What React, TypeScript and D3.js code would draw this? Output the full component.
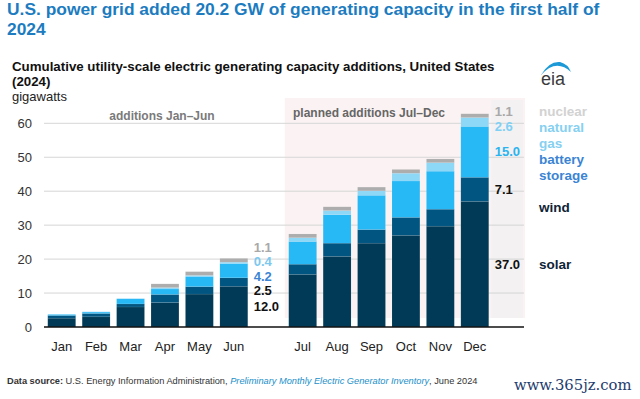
import React from "react";
import * as d3 from "d3";

// monthly cumulative additions, GW (Jan-Jun actual, Jul-Dec planned)
const months = ["Jan", "Feb", "Mar", "Apr", "May", "Jun", "Jul", "Aug", "Sep", "Oct", "Nov", "Dec"];
const solar = [2.6, 3.0, 5.9, 7.2, 9.7, 12.0, 15.5, 20.8, 24.7, 27.0, 29.7, 37.0];
const wind = [0.8, 1.0, 0.9, 2.4, 2.2, 2.5, 3.0, 3.9, 4.0, 5.3, 5.0, 7.1];
const battery = [0.3, 0.4, 1.5, 1.6, 3.0, 4.2, 6.7, 8.4, 10.1, 10.7, 11.2, 15.0];
const naturalGas = [0.0, 0.1, 0.1, 0.4, 0.3, 0.4, 1.1, 1.2, 1.3, 2.3, 2.5, 2.6];
const nuclear = [0, 0, 0, 1.1, 1.1, 1.1, 1.1, 1.1, 1.1, 1.1, 1.1, 1.1];

const seriesKeys = ["solar", "wind", "battery", "naturalGas", "nuclear"];
const seriesColors = ["#003a56", "#005581", "#27b8f6", "#8dd7f7", "#adadad"];
const legendLines = [["solar"], ["wind"], ["battery", "storage"], ["natural", "gas"], ["nuclear"]];
const legendColors = ["#0e2436", "#0e2436", "#3b84d4", "#86d0f1", "#d2d2d2"];
const junLabelColors = ["#111111", "#111111", "#3b84d4", "#7cc8ee", "#a9a9a9"];
const decLabelColors = ["#111111", "#111111", "#2ab4f0", "#7fd0f5", "#a9a9a9"];
const yTicks = [0, 10, 20, 30, 40, 50, 60];

const slots = [...months.slice(0, 6), "gap", ...months.slice(6)];

const W = 640;
const H = 399;
const font = "'Liberation Sans', Arial, sans-serif";

// spread labels vertically so they don't overlap, keeping groups centered on their anchors
function spread(ys: number[], gap: number): number[] {
  let groups = ys.map((y, i) => ({ idx: [i], mean: y }));
  let merged = true;
  while (merged) {
    merged = false;
    for (let i = 0; i < groups.length - 1; i++) {
      const a = groups[i];
      const b = groups[i + 1];
      const aBottom = a.mean + ((a.idx.length - 1) / 2) * gap;
      const bTop = b.mean - ((b.idx.length - 1) / 2) * gap;
      if (bTop - aBottom < gap) {
        const idx = [...a.idx, ...b.idx];
        const mean = d3.mean(idx, (k) => ys[k]) as number;
        groups.splice(i, 2, { idx, mean });
        merged = true;
        break;
      }
    }
  }
  const out: number[] = [];
  groups.forEach((g) => {
    g.idx.forEach((k, j) => {
      out[k] = g.mean + (j - (g.idx.length - 1) / 2) * gap;
    });
  });
  return out;
}

export default function App() {
  const table = months.map((m, i) => ({
    month: m,
    solar: solar[i],
    wind: wind[i],
    battery: battery[i],
    naturalGas: naturalGas[i],
    nuclear: nuclear[i],
  }));
  const stacked = d3.stack<any>().keys(seriesKeys)(table);

  const x = d3.scaleBand<string>().domain(slots).range([44.5, 492]).paddingInner(0.19).paddingOuter(0.095);
  const y = d3.scaleLinear().domain([0, 60]).range([327, 123.3]);
  const bw = x.bandwidth();

  const labelsFor = (mi: number) => {
    // top to bottom order
    const order = [4, 3, 2, 1, 0];
    const centers = order.map((s) => y((stacked[s][mi][0] + stacked[s][mi][1]) / 2));
    const ys = spread(centers, 14.5);
    const res: { s: number; y: number }[] = [];
    order.forEach((s, k) => res.push({ s, y: ys[k] }));
    return res;
  };
  const junLabels = labelsFor(5);
  const decLabels = labelsFor(11);
  const fmt = d3.format(".1f");

  // legend lines follow the Dec labels
  const legendItems: { text: string; color: string; y: number }[] = [];
  let prev = -Infinity;
  let prevMulti = false;
  [4, 3, 2, 1, 0].forEach((s) => {
    const anchor = decLabels.find((d) => d.s === s)!.y;
    const single = legendLines[s].length === 1;
    legendLines[s].forEach((t, j) => {
      const ly = j === 0 ? Math.max(anchor, prev + (prevMulti && single ? 32 : 16)) : prev + 16;
      legendItems.push({ text: t, color: legendColors[s], y: ly });
      prev = ly;
    });
    prevMulti = !single;
  });

  const planLeft = (x("Jul") as number) - 4;
  const plotRight = 524;
  const decRight = (x("Dec") as number) + bw;

  return (
    <svg width={W} height={H} style={{ position: "absolute", left: 0, top: 0, background: "#fff" }} fontFamily={font}>
      {/* title */}
      <text x={7} y={15} fontSize={17.4} fontWeight="bold" fill="#1d7cbf">
        U.S. power grid added 20.2 GW of generating capacity in the first half of
      </text>
      <text x={7} y={35} fontSize={17.4} fontWeight="bold" fill="#1d7cbf">
        2024
      </text>

      <text x={12} y={71} fontSize={13.3} fontWeight="bold" fill="#111">
        Cumulative utility-scale electric generating capacity additions, United States
      </text>
      <text x={12} y={86} fontSize={13.3} fontWeight="bold" fill="#111">
        (2024)
      </text>
      <text x={12} y={101} fontSize={13} fill="#222">
        gigawatts
      </text>

      {/* eia logo */}
      <path d="M541,75 Q556,58 571,72 Q568,64 560,62 Q549,61 541,75 Z" fill="#1c9ad8" />
      <text x={541} y={85} fontSize={18} fill="#3a3a3a">
        eia
      </text>

      {/* planned region */}
      <rect x={planLeft} y={98} width={plotRight + 1 - planLeft} height={220} fill="#fbf3f3" />
      <rect x={decRight + 2.5} y={100} width={plotRight - 1 - decRight - 2.5} height={218} fill="#f3f1f1" />

      {/* grid */}
      {yTicks.filter((t) => t > 0).map((t) => (
        <line key={t} x1={44} x2={plotRight} y1={y(t)} y2={y(t)} stroke="#d6d6d6" strokeWidth={1} />
      ))}
      {yTicks.map((t) => (
        <text key={t} x={32} y={y(t)} dy="0.35em" textAnchor="end" fontSize={13} fill="#333">
          {t}
        </text>
      ))}

      <text x={162} y={120} textAnchor="middle" fontSize={12} fontWeight="bold" fill="#7a7a7a">
        additions Jan–Jun
      </text>
      <text x={293} y={117} fontSize={12} fontWeight="bold" fill="#666">
        planned additions Jul–Dec
      </text>

      {/* bars */}
      {stacked.map((layer, s) => (
        <g key={seriesKeys[s]} fill={seriesColors[s]}>
          {layer.map((d: any) => (
            <rect
              key={d.data.month}
              x={x(d.data.month)}
              y={y(d[1])}
              width={bw}
              height={Math.max(0, y(d[0]) - y(d[1]))}
              stroke="rgba(255,255,255,0.12)"
              strokeWidth={0.6}
            />
          ))}
        </g>
      ))}

      {/* axis */}
      <line x1={44} x2={plotRight} y1={y(0)} y2={y(0)} stroke="#111" strokeWidth={1.3} />
      {months.map((m) => (
        <text key={m} x={(x(m) as number) + bw / 2} y={351} textAnchor="middle" fontSize={13} fill="#222">
          {m}
        </text>
      ))}

      {/* value labels */}
      {junLabels.map((l) => (
        <text key={"j" + l.s} x={(x("Jun") as number) + bw + 6} y={l.y} dy="0.35em" fontSize={13} fontWeight="bold" fill={junLabelColors[l.s]}>
          {fmt((table[5] as any)[seriesKeys[l.s]])}
        </text>
      ))}
      {decLabels.map((l) => (
        <text key={"d" + l.s} x={decRight + 6} y={l.y} dy="0.35em" fontSize={13} fontWeight="bold" fill={decLabelColors[l.s]}>
          {fmt((table[11] as any)[seriesKeys[l.s]])}
        </text>
      ))}

      {/* legend */}
      {legendItems.map((l, i) => (
        <text key={i} x={539} y={l.y} dy="0.35em" fontSize={13.5} fontWeight="bold" fill={l.color}>
          {l.text}
        </text>
      ))}

      {/* footer */}
      <text x={7} y={384} fontSize={9.25} fill="#333">
        <tspan fontWeight="bold">Data source:</tspan>
        <tspan> U.S. Energy Information Administration, </tspan>
        <tspan fontStyle="italic" fill="#1a8fca">Preliminary Monthly Electric Generator Inventory</tspan>
        <tspan>, June 2024</tspan>
      </text>
      <text x={514} y={390} fontSize={14.8} fill="#1e3c6e" fontFamily="'DejaVu Serif', serif">
        www.365jz.com
      </text>
    </svg>
  );
}
